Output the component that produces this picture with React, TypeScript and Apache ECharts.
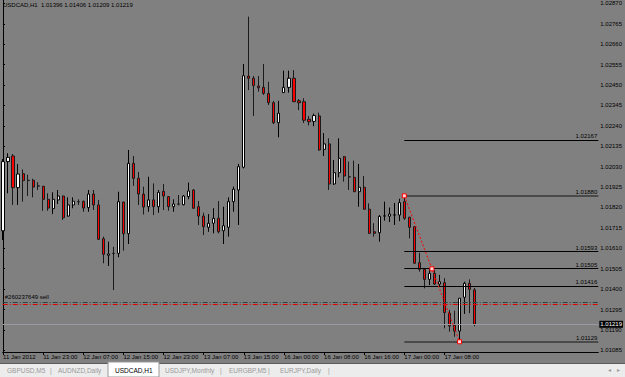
import React, { useEffect, useRef } from "react";
import * as echarts from "echarts";

// ---- data (bar index, OHLC) ----
const opens = [
  1.01700, 1.02056, 1.02085, 1.01922, 1.01994, 1.01960, 1.01960, 1.01931, 1.01929, 1.01862,
  1.01814, 1.01859, 1.01879, 1.01776, 1.01833, 1.01850, 1.01852, 1.01819, 1.01889, 1.01833,
  1.01659, 1.01574, 1.01584, 1.01584, 1.01848, 1.01685, 1.02047, 1.01970, 1.01889, 1.01824,
  1.01859, 1.01824, 1.01903, 1.01876, 1.01824, 1.01838, 1.01834, 1.01876, 1.01910, 1.01824,
  1.01776, 1.01718, 1.01739, 1.01764, 1.01700, 1.01718, 1.01850, 1.01910, 1.02027, 1.02496,
  1.02485, 1.02445, 1.02438, 1.02407, 1.02359, 1.02256, 1.02411, 1.02438, 1.02485, 1.02369,
  1.02364, 1.02274, 1.02263, 1.02291, 1.02119, 1.02147, 1.01941, 1.01999, 1.02081, 1.01978,
  1.01975, 1.01901, 1.01924, 1.01811, 1.01695, 1.01690, 1.01776, 1.01775, 1.01781, 1.01781,
  1.01850, 1.01770, 1.01721, 1.01536, 1.01502, 1.01450, 1.01481, 1.01426, 1.01433, 1.01276,
  1.01215, 1.01184, 1.01358, 1.01430, 1.01396,
];
const closes = [
  1.02056, 1.02078, 1.01922, 1.01992, 1.01958, 1.01959, 1.01925, 1.01930, 1.01862, 1.01817,
  1.01862, 1.01879, 1.01767, 1.01833, 1.01852, 1.01849, 1.01817, 1.01889, 1.01833, 1.01656,
  1.01579, 1.01581, 1.01583, 1.01850, 1.01685, 1.02047, 1.01970, 1.01889, 1.01822, 1.01859,
  1.01824, 1.01898, 1.01879, 1.01824, 1.01838, 1.01837, 1.01879, 1.01905, 1.01816, 1.01776,
  1.01721, 1.01739, 1.01764, 1.01695, 1.01726, 1.01850, 1.01914, 1.02030, 1.02498, 1.02485,
  1.02447, 1.02436, 1.02407, 1.02359, 1.02256, 1.02305, 1.02438, 1.02485, 1.02364, 1.02359,
  1.02269, 1.02261, 1.02293, 1.02116, 1.02147, 1.01941, 1.01999, 1.02073, 1.01982, 1.01977,
  1.01901, 1.01924, 1.01811, 1.01687, 1.01687, 1.01774, 1.01777, 1.01786, 1.01782, 1.01845,
  1.01764, 1.01718, 1.01533, 1.01502, 1.01450, 1.01481, 1.01426, 1.01438, 1.01279, 1.01210,
  1.01184, 1.01353, 1.01430, 1.01399, 1.01219,
];
const lows = [
  1.01653, 1.01893, 1.01833, 1.01833, 1.01850, 1.01879, 1.01872, 1.01910, 1.01803, 1.01803,
  1.01786, 1.01838, 1.01756, 1.01773, 1.01816, 1.01833, 1.01798, 1.01798, 1.01807, 1.01653,
  1.01533, 1.01519, 1.01395, 1.01564, 1.01598, 1.01632, 1.01931, 1.01833, 1.01784, 1.01798,
  1.01781, 1.01793, 1.01807, 1.01803, 1.01798, 1.01831, 1.01831, 1.01862, 1.01814, 1.01730,
  1.01678, 1.01695, 1.01687, 1.01687, 1.01632, 1.01670, 1.01798, 1.01730, 1.02021, 1.02424,
  1.02291, 1.02416, 1.02399, 1.02347, 1.02249, 1.02181, 1.02409, 1.02411, 1.02363, 1.02321,
  1.02255, 1.02242, 1.02238, 1.02112, 1.02085, 1.01910, 1.01936, 1.01975, 1.01953, 1.01910,
  1.01900, 1.01824, 1.01810, 1.01684, 1.01670, 1.01644, 1.01752, 1.01745, 1.01730, 1.01750,
  1.01756, 1.01661, 1.01531, 1.01490, 1.01404, 1.01421, 1.01421, 1.01412, 1.01198, 1.01181,
  1.01155, 1.01129, 1.01272, 1.01276, 1.01209,
];
const highs = [
  1.02069, 1.02099, 1.02095, 1.02044, 1.02016, 1.01989, 1.01968, 1.01950, 1.01931, 1.01893,
  1.01898, 1.01910, 1.01881, 1.01872, 1.01872, 1.01862, 1.01855, 1.01910, 1.01910, 1.01859,
  1.01670, 1.01644, 1.01618, 1.01901, 1.01850, 1.02116, 1.02085, 1.02003, 1.01927, 1.01978,
  1.01944, 1.01910, 1.01941, 1.01879, 1.01862, 1.01884, 1.01884, 1.01948, 1.01915, 1.01853,
  1.01793, 1.01786, 1.01816, 1.01853, 1.01824, 1.01872, 1.01927, 1.02044, 1.02558, 1.02802,
  1.02496, 1.02496, 1.02558, 1.02467, 1.02368, 1.02369, 1.02524, 1.02524, 1.02527, 1.02378,
  1.02382, 1.02291, 1.02303, 1.02308, 1.02203, 1.02176, 1.02064, 1.02176, 1.02085, 1.02056,
  1.02061, 1.02044, 1.01982, 1.01841, 1.01739, 1.01781, 1.01850, 1.01820, 1.01843, 1.01865,
  1.01880, 1.01772, 1.01723, 1.01587, 1.01507, 1.01507, 1.01498, 1.01473, 1.01456, 1.01293,
  1.01289, 1.01354, 1.01438, 1.01450, 1.01406,
];

const xTickBars = [0, 8, 16, 24, 32, 40, 48, 56, 64, 72, 80, 88];
const xTickLabels = [
  "11 Jan 2012", "11 Jan 23:00", "12 Jan 07:00", "12 Jan 15:00", "12 Jan 23:00", "13 Jan 07:00",
  "13 Jan 15:00", "16 Jan 00:00", "16 Jan 08:00", "16 Jan 16:00", "17 Jan 00:00", "17 Jan 08:00",
];
const yTickValues = [
  1.01085, 1.0119, 1.01295, 1.014, 1.01505, 1.0161, 1.01715, 1.0182, 1.01925,
  1.0203, 1.02135, 1.0224, 1.02345, 1.0245, 1.02555, 1.0266, 1.02765, 1.0287,
];

// Fibonacci levels drawn from the swing (bar 80 high -> bar 91 low)
const fiboLevels = [1.02167, 1.0188, 1.01593, 1.01505, 1.01416, 1.01129];
const fiboStartBar = 80;
const fiboTrend = [
  [80, 1.0188],
  [85.5, 1.015045],
  [91, 1.01129],
];
const bidPrice = 1.01219;
const orderPrice = 1.01334;
const orderPrice2 = 1.01321;
const orderLabel = "#260237649 sell";
const title = "USDCAD,H1  1.01396 1.01406 1.01209 1.01219";
const tabs = [
  { t: "GBPUSD,M5", x: 7 },
  { t: "|", x: 50 },
  { t: "AUDNZD,Daily", x: 58 },
  { t: "USDCAD,H1", x: 115, active: true },
  { t: "USDJPY,Monthly", x: 165 },
  { t: "|", x: 220 },
  { t: "EURGBP,M5", x: 229 },
  { t: "|", x: 268 },
  { t: "EURJPY,Daily", x: 280 },
  { t: "|", x: 328 },
];

const X_MIN = -0.053;
const X_MAX = 118.665;
const Y_MIN = 1.010764;
const Y_MAX = 1.028875;
const FONT = "Liberation Sans, Arial, sans-serif";

export default function App() {
  const ref = useRef<HTMLDivElement>(null);
  useEffect(() => {
    document.body.style.margin = "0";
    const chart = echarts.init(ref.current!, null, { renderer: "svg" });
    const candleData = opens.map((o, i) => [i, o, closes[i], lows[i], highs[i]]);
    const fiboMark = fiboLevels.map((v, k) => {
      const edge = k === 1 || k === fiboLevels.length - 1;
      return [
        {
          coord: [fiboStartBar, v],
          lineStyle: { color: edge ? "#4a4a4a" : "#000000", width: edge ? 2 : 1, type: "solid" },
          label: {
            show: true,
            position: "insideEndTop",
            formatter: v.toFixed(5),
            color: "#000",
            fontSize: 6,
            fontFamily: FONT,
            distance: 1,
          },
        },
        { coord: [X_MAX, v] },
      ];
    });

    const option: any = {
      animation: false,
      backgroundColor: "#808080",
      grid: { left: 0, top: 0, width: 600, height: 352, containLabel: false },
      xAxis: {
        type: "value",
        min: X_MIN,
        max: X_MAX,
        axisLine: { show: true, lineStyle: { color: "#000", width: 1 } },
        axisTick: { show: true, length: 3, customValues: xTickBars, lineStyle: { color: "#000" } },
        axisLabel: {
          show: true,
          customValues: xTickBars,
          align: "left",
          margin: 2,
          color: "#000",
          fontSize: 6,
          fontFamily: FONT,
          formatter: (v: number) => {
            const k = xTickBars.indexOf(Math.round(v));
            return k >= 0 ? xTickLabels[k] : "";
          },
        },
        splitLine: { show: false },
      },
      yAxis: {
        type: "value",
        position: "right",
        min: Y_MIN,
        max: Y_MAX,
        scale: true,
        axisLine: { show: true, lineStyle: { color: "#000", width: 1 } },
        axisTick: { show: true, length: 2, customValues: yTickValues, lineStyle: { color: "#000" } },
        axisLabel: {
          show: true,
          customValues: yTickValues,
          margin: 2,
          color: "#000",
          fontSize: 6,
          fontFamily: FONT,
          formatter: (v: number) => v.toFixed(5),
        },
        splitLine: { show: false },
      },
      series: [
        {
          type: "line",
          data: [],
          silent: true,
          z: 1,
          markLine: {
            symbol: ["none", "none"],
            silent: true,
            animation: false,
            data: [
              [
                {
                  coord: [X_MIN, bidPrice],
                  lineStyle: { color: "#989ca2", width: 1, type: "solid" },
                  label: {
                    show: true,
                    position: "end",
                    distance: 1,
                    formatter: bidPrice.toFixed(5),
                    color: "#fff",
                    backgroundColor: "#000",
                    padding: [1, 1, 0, 1],
                    fontSize: 6,
                    fontFamily: FONT,
                  },
                },
                { coord: [X_MAX, bidPrice] },
              ],
              [
                {
                  coord: [X_MIN, orderPrice],
                  lineStyle: { color: "#2a4444", width: 1, type: [5, 2, 1, 2] },
                  label: {
                    show: true,
                    position: "insideStartTop",
                    distance: 2,
                    formatter: orderLabel,
                    color: "#000",
                    fontSize: 6,
                    fontFamily: FONT,
                  },
                },
                { coord: [X_MAX, orderPrice] },
              ],
              [
                {
                  coord: [X_MIN, orderPrice2],
                  lineStyle: { color: "#e00000", width: 1, type: [5, 2, 1, 2] },
                  label: { show: false },
                },
                { coord: [X_MAX, orderPrice2] },
              ],
            ],
          },
        },
        {
          type: "candlestick",
          data: candleData,
          encode: { x: 0, y: [1, 2, 3, 4] },
          barWidth: 2.6,
          z: 3,
          itemStyle: {
            color: "#ffffff",
            color0: "#ff0000",
            borderColor: "#000000",
            borderColor0: "#1a1a1a",
            borderWidth: 1,
          },
        },
        {
          type: "line",
          data: [],
          silent: true,
          z: 4,
          markLine: {
            symbol: ["none", "none"],
            silent: true,
            animation: false,
            data: fiboMark,
          },
        },
        {
          type: "line",
          data: fiboTrend,
          z: 5,
          silent: true,
          lineStyle: { color: "#ff0000", width: 1, type: [2, 2] },
          symbol: "rect",
          symbolSize: 4,
          showSymbol: true,
          itemStyle: { color: "#ffd6d6", borderColor: "#ff0000", borderWidth: 1 },
        },
      ],
      graphic: [
        {
          type: "text",
          left: 3,
          top: 2,
          style: { text: title, fill: "#000", fontSize: 6, fontFamily: FONT },
          z: 10,
        },
        {
          type: "rect",
          shape: { x: 0, y: 363, width: 625, height: 14 },
          style: { fill: "#ececec" },
          z: 10,
        },
        {
          type: "line",
          shape: { x1: 0, y1: 363.5, x2: 625, y2: 363.5 },
          style: { stroke: "#5a5a5a", lineWidth: 1 },
          z: 11,
        },
        {
          type: "rect",
          shape: { x: 108, y: 362, width: 51, height: 15 },
          style: { fill: "#ffffff", stroke: "#9a9a9a", lineWidth: 1 },
          z: 12,
        },
        ...tabs.map((tb) => ({
          type: "text",
          x: tb.x,
          y: 370,
          style: {
            text: tb.t,
            fill: tb.active ? "#000" : "#9a9a9a",
            fontSize: 6.5,
            fontFamily: FONT,
            verticalAlign: "middle",
          },
          z: 13,
        })),
        {
          type: "text",
          x: 608,
          y: 370,
          style: { text: "◂", fill: "#9a9a9a", fontSize: 6, fontFamily: FONT, verticalAlign: "middle" },
          z: 13,
        },
        {
          type: "text",
          x: 617,
          y: 370,
          style: { text: "▸", fill: "#9a9a9a", fontSize: 6, fontFamily: FONT, verticalAlign: "middle" },
          z: 13,
        },
      ],
    };
    chart.setOption(option);
    return () => chart.dispose();
  }, []);
  return (
    <div
      ref={ref}
      style={{ position: "absolute", left: 0, top: 0, width: 625, height: 377 }}
    />
  );
}
